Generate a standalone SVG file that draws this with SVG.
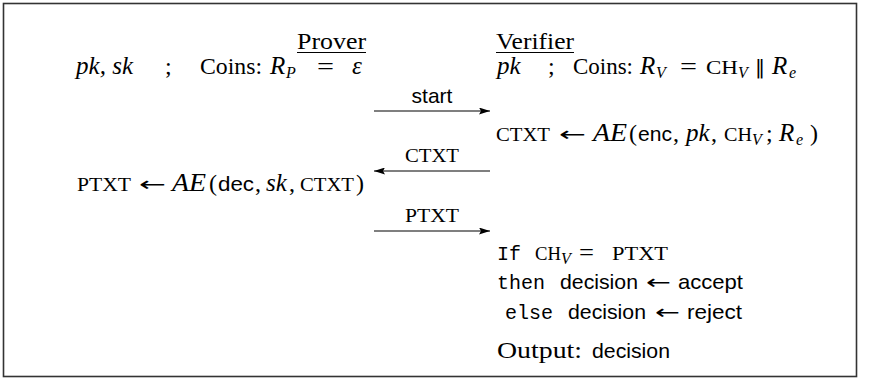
<svg xmlns="http://www.w3.org/2000/svg" width="893" height="379" viewBox="0 0 893 379">
<style>
text{fill:#000}
.s{font-family:"Liberation Serif",serif;font-size:24px}
.i{font-style:italic;font-size:25px}
.sc{font-family:"Liberation Serif",serif;font-size:18px}
.sub{font-family:"Liberation Serif",serif;font-size:16px;font-style:italic}
.sf{font-family:"Liberation Sans",sans-serif;font-size:21px}
.tt{font-family:"Liberation Mono",monospace;font-size:20px}
.ar{font-family:"DejaVu Sans",sans-serif;font-size:20px}
.ul{stroke:#000;stroke-width:1}
.arr{stroke:#000;stroke-width:1.2;fill:none;marker-end:url(#ah)}
</style>
<defs>
<marker id="ah" markerUnits="userSpaceOnUse" markerWidth="11" markerHeight="7" refX="11" refY="3.5" orient="auto">
<path d="M0,0 L11,3.5 L0,7 L2,3.5 z" fill="#000"/>
</marker>
</defs>
<rect x="3.5" y="3.5" width="853" height="373" fill="#fff" stroke="#333" stroke-width="1.6"/>

<g id="prover-header">
<text class="s" x="297" y="49" textLength="69" lengthAdjust="spacingAndGlyphs">Prover</text>
<line class="ul" x1="297" y1="52.5" x2="366" y2="52.5"/>
</g>
<g id="verifier-header">
<text class="s" x="496" y="49" textLength="78" lengthAdjust="spacingAndGlyphs">Verifier</text>
<line class="ul" x1="496" y1="52.5" x2="574" y2="52.5"/>
</g>

<g id="prover-state">
<text class="s i" x="76" y="74" textLength="57" lengthAdjust="spacing">pk, sk</text>
<text class="s" x="165" y="74">;</text>
<text class="s" x="200" y="74" textLength="62" lengthAdjust="spacingAndGlyphs">Coins:</text>
<text class="s i" x="270" y="74">R</text>
<text class="sub" x="286" y="78">P</text>
<text class="s" x="317" y="74" textLength="17" lengthAdjust="spacingAndGlyphs">=</text>
<text class="s i" x="352" y="74">ε</text>
</g>

<g id="verifier-state">
<text class="s i" x="497" y="74">pk</text>
<text class="s" x="548" y="74">;</text>
<text class="s" x="573" y="74" textLength="60" lengthAdjust="spacingAndGlyphs">Coins:</text>
<text class="s i" x="640" y="74">R</text>
<text class="sub" x="656" y="78">V</text>
<text class="s" x="680" y="74" textLength="17" lengthAdjust="spacingAndGlyphs">=</text>
<text class="sc" x="706" y="74" textLength="32" lengthAdjust="spacingAndGlyphs">CH</text>
<text class="sub" x="738" y="78">V</text>
<text class="ar" x="755" y="74">‖</text>
<text class="s i" x="772" y="74">R</text>
<text class="sub" x="789" y="78">e</text>
</g>

<g id="verifier-enc">
<text class="sc" x="496" y="141" textLength="54" lengthAdjust="spacingAndGlyphs">CTXT</text>
<text class="ar" x="559" y="141" textLength="27" lengthAdjust="spacingAndGlyphs">←</text>
<text class="s i" x="593" y="141" textLength="34" lengthAdjust="spacingAndGlyphs">AE</text>
<text class="s" x="629" y="141">(</text>
<text class="sf" x="638" y="141" textLength="34" lengthAdjust="spacingAndGlyphs">enc</text>
<text class="s" x="673" y="141">,</text>
<text class="s i" x="686" y="141">pk</text>
<text class="s" x="711" y="141">,</text>
<text class="sc" x="724" y="141" textLength="28" lengthAdjust="spacingAndGlyphs">CH</text>
<text class="sub" x="752" y="145">V</text>
<text class="s" x="766" y="141">;</text>
<text class="s i" x="779" y="141">R</text>
<text class="sub" x="796" y="145">e</text>
<text class="s" x="810" y="141">)</text>
</g>

<g id="prover-dec">
<text class="sc" x="77" y="191" textLength="54" lengthAdjust="spacingAndGlyphs">PTXT</text>
<text class="ar" x="139" y="191" textLength="27" lengthAdjust="spacingAndGlyphs">←</text>
<text class="s i" x="172" y="191" textLength="34" lengthAdjust="spacingAndGlyphs">AE</text>
<text class="s" x="209" y="191">(</text>
<text class="sf" x="218" y="191" textLength="36" lengthAdjust="spacingAndGlyphs">dec</text>
<text class="s" x="255" y="191">,</text>
<text class="s i" x="266" y="191">sk</text>
<text class="s" x="289" y="191">,</text>
<text class="sc" x="300" y="191" textLength="54" lengthAdjust="spacingAndGlyphs">CTXT</text>
<text class="s" x="356" y="191">)</text>
</g>

<g id="verifier-check">
<text class="tt" x="497" y="260">If</text>
<text class="sc" x="535" y="260" textLength="26" lengthAdjust="spacingAndGlyphs">CH</text>
<text class="sub" x="561" y="264">V</text>
<text class="s" x="579" y="260" textLength="15" lengthAdjust="spacingAndGlyphs">=</text>
<text class="sc" x="612" y="260" textLength="56" lengthAdjust="spacingAndGlyphs">PTXT</text>
<text class="tt" x="497" y="289" textLength="48" lengthAdjust="spacingAndGlyphs">then</text>
<text class="sf" x="560" y="289" textLength="78" lengthAdjust="spacingAndGlyphs">decision</text>
<text class="ar" x="646" y="289" textLength="25" lengthAdjust="spacingAndGlyphs">←</text>
<text class="sf" x="678" y="289" textLength="65" lengthAdjust="spacingAndGlyphs">accept</text>
<text class="tt" x="505" y="319" textLength="48" lengthAdjust="spacingAndGlyphs">else</text>
<text class="sf" x="568" y="319" textLength="78" lengthAdjust="spacingAndGlyphs">decision</text>
<text class="ar" x="655" y="319" textLength="25" lengthAdjust="spacingAndGlyphs">←</text>
<text class="sf" x="687" y="319" textLength="55" lengthAdjust="spacingAndGlyphs">reject</text>
</g>

<g id="verifier-output">
<text class="s" x="497" y="358" textLength="85" lengthAdjust="spacingAndGlyphs">Output:</text>
<text class="sf" x="592" y="358" textLength="78" lengthAdjust="spacingAndGlyphs">decision</text>
</g>

<g id="connectors">
<line class="arr" x1="374" y1="111" x2="490" y2="111"/>
<text class="sf" x="432" y="103" text-anchor="middle">start</text>
<line class="arr" x1="490" y1="171" x2="374" y2="171"/>
<text class="sc" x="405" y="162" textLength="54" lengthAdjust="spacingAndGlyphs">CTXT</text>
<line class="arr" x1="374" y1="231" x2="490" y2="231"/>
<text class="sc" x="405" y="222" textLength="54" lengthAdjust="spacingAndGlyphs">PTXT</text>
</g>
</svg>
